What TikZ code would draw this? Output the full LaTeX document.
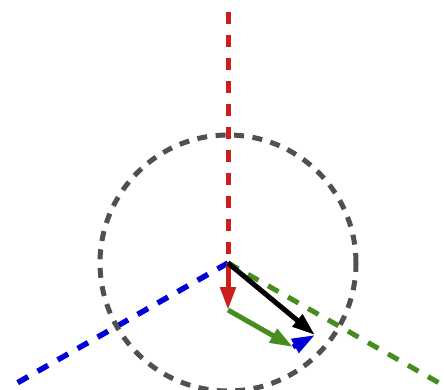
\documentclass[tikz,border=0pt]{standalone}
\usetikzlibrary{arrows.meta}
\definecolor{cred}{RGB}{205,30,30}
\definecolor{cblue}{RGB}{0,0,215}
\definecolor{cgreen}{RGB}{70,140,30}
\definecolor{cgray}{RGB}{80,80,80}
\tikzset{
  axisline/.style={line width=5pt, dash pattern=on 12pt off 11pt},
  circline/.style={line width=5pt, color=cgray, dash pattern=on 10pt off 8.5pt},
  vec/.style={line width=5pt, -{Triangle[length=23pt,width=15pt]}},
}
\begin{document}
\begin{tikzpicture}[x=1pt,y=-1pt]
\useasboundingbox (0,0) rectangle (444,390);
\coordinate (O) at (228,263);
\coordinate (Rtop) at (228,12);
\coordinate (Bend) at (10,387);
\coordinate (Gend) at (448,388);
\coordinate (R) at (228,310);
% axes
\draw[axisline, cred] (Rtop) -- (O);
\draw[axisline, cblue, line width=5.5pt] (O) -- (Bend);
\draw[axisline, cgreen] (O) -- (Gend);
% circle
\draw[circline] (O) circle (128pt);
% vectors
\coordinate (Gt) at (293,347);
\coordinate (T) at (315,335);
\draw[vec, cred] (O) -- (R);
\draw[vec, cgreen] (R) -- (Gt);
\draw[vec, cblue] (Gt) -- (T);
\draw[vec, black] (O) -- (T);
\end{tikzpicture}
\end{document}
